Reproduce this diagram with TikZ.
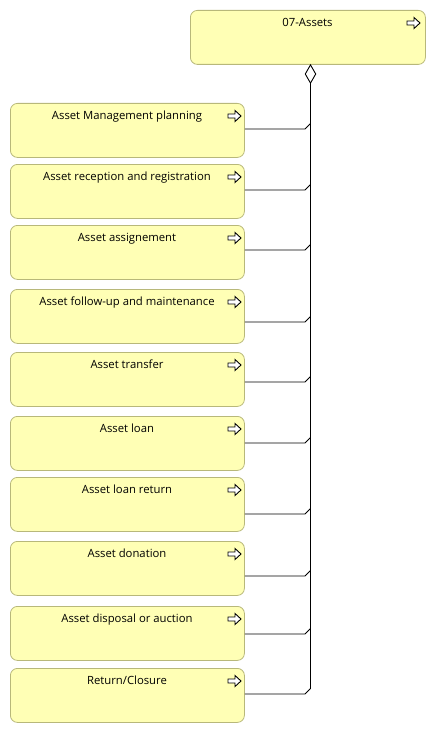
\documentclass[tikz,border=0pt]{standalone}
\usepackage{fontspec}
\setmainfont{Open Sans}
\usetikzlibrary{arrows.meta}
\definecolor{boxfill}{RGB}{255,255,181}
\definecolor{boxline}{RGB}{184,184,122}
\tikzset{
  elem/.style={draw=boxline, fill=boxfill, rounded corners=7pt, line width=0.8pt,
    minimum width=234pt, minimum height=54pt, anchor=north west, inner sep=0pt},
  lbl/.style={font=\fontsize{11.3pt}{13pt}\selectfont, anchor=base},
  conn/.style={line width=0.9pt, black},
  icon/.pic={\draw[line width=0.9pt, fill=white, line join=miter]
     (0,-2) -- (7,-2) -- (7,-5.5) -- (13,0) -- (7,5.5) -- (7,2) -- (0,2) -- cycle;}
}
\begin{document}
\begin{tikzpicture}[x=1pt,y=-1pt]
\useasboundingbox (0,0) rectangle (435,733);
% top element
\node[elem, minimum width=235pt] (top) at (190,10) {};
\node[lbl] (toplbl) at (307.5,26.5) {07-Assets};
\pic at (407,23) {icon};
% child elements
\foreach \name/\yt/\txt in {
  b1/103/{Asset Management planning},
  b2/164/{Asset reception and registration},
  b3/225/{Asset assignement},
  b4/289/{Asset follow-up and maintenance},
  b5/352/{Asset transfer},
  b6/416/{Asset loan},
  b7/477/{Asset loan return},
  b8/541/{Asset donation},
  b9/606/{Asset disposal or auction},
  b10/668/{Return/Closure}}{
  \node[elem] (\name) at (10,\yt) {};
  \node[lbl] (\name lbl) at (127,\yt+16.5) {\txt};
  \pic at (228,\yt+13) {icon};
}
% junction coordinates
\foreach \name/\y in {b1/129,b2/190,b3/250,b4/322,b5/382,b6/443,b7/514,b8/576,b9/634,b10/694}{
  \coordinate (j\name) at (305,\y);
  \coordinate (k\name) at (310.5,\y-5.5);
  \draw[conn] (\name.east |- j\name) -- (j\name) -- (k\name);
}
% trunk with aggregation diamond
\coordinate (trunktop) at (310.5,64);
\draw[conn, {Diamond[open, length=20pt, width=11.5pt, line width=0.9pt]}-] (trunktop) -- (kb10);
\end{tikzpicture}
\end{document}
